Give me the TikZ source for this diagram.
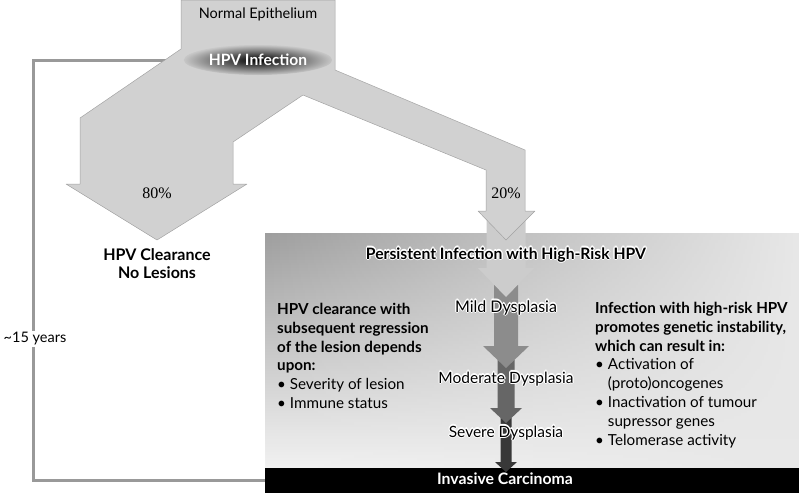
\documentclass[tikz,border=0pt]{standalone}
\usepackage{fontspec}
\setmainfont{Lato}
\newfontfamily\pctfont{Liberation Serif}
\usetikzlibrary{fadings,shapes.geometric}
\newcommand\halo[1]{\leavevmode\foreach \hx/\hy in {1.2/0,-1.2/0,0/1.2,0/-1.2,.85/.85,-.85/.85,.85/-.85,-.85/-.85}{\rlap{\kern\hx pt\raise\hy pt\hbox{\color{white}#1}}}#1}
\begin{document}
\begin{tikzpicture}[x=1pt,y=-1pt,line join=round,
 flow/.style={fill=black!18,draw=black!36,line width=.5pt},
 stage/.style={font=\fontsize{15.5}{17}\selectfont,inner sep=0,anchor=base},
 body/.style={font=\fontsize{15.2}{18.8}\selectfont,align=left,inner sep=0,anchor=north west},
 head/.style={font=\bfseries\fontsize{16}{18}\selectfont,inner sep=0}]
\useasboundingbox (0,0) rectangle (799,493);
\path
(181,0) coordinate (N1)
(335,0) coordinate (N2)
(335,70) coordinate (N3)
(525,150) coordinate (R1)
(525,211) coordinate (R2)
(535,211) coordinate (R3)
(506,240) coordinate (R4)
(478,211) coordinate (R5)
(486,211) coordinate (R6)
(486,170) coordinate (R7)
(303,95) coordinate (M)
(233,142) coordinate (L1)
(233,184) coordinate (L2)
(247,184) coordinate (L3)
(157,240) coordinate (L4)
(66,184) coordinate (L5)
(80,184) coordinate (L6)
(80,118) coordinate (L7)
(181,49) coordinate (L8)
(190,60) coordinate (T)
(33,60) coordinate (Y1)
(33,480) coordinate (Y2)
(268,480) coordinate (Y3)
(265,233) coordinate (P)
(799,468) coordinate (Q)
(799,493) coordinate (Z)
;
\draw[black!40,line width=3pt,line join=miter] (T)--(Y1)--(Y2)--(Y3);
\fill[top color=black!38,bottom color=black!5] (P) rectangle (Q);
\fill[black!9,path fading=west] (P) rectangle (Q);
\fill[black] (P|-Q) rectangle (Z);
\foreach \ya/\yb/\yc/\s/\w/\c in {418/462/472/5.5/11/78, 360/408/423/8.5/16/60, 285/346/368/12/23/45, 211/268/297/19.5/28/20}
\fill[black!\c] (506-\s,\ya)--(506-\s,\yb)--(506-\w,\yb)--(506,\yc)--(506+\w,\yb)--(506+\s,\yb)--(506+\s,\ya)--cycle;
\draw[flow] (N1)--(N2)--(N3)--(R1)--(R2)--(R3)--(R4)--(R5)--(R6)--(R7)--(M)--(L1)--(L2)--(L3)--(L4)--(L5)--(L6)--(L7)--(L8)--cycle;
\node[font=\fontsize{14.5}{16}\selectfont] (normal) at (258,14) {Normal Epithelium};
\node[ellipse,minimum width=138,minimum height=30,shading=radial,inner color=black,outer color=black!22,
 text=white,font=\bfseries\fontsize{15.6}{17}\selectfont] (hpv) at (258,60) {HPV Infection};
\node[font=\pctfont\fontsize{16}{18}\selectfont] (p80) at (157,193) {80\%};
\node[font=\pctfont\fontsize{16}{18}\selectfont] (p20) at (506,193) {20\%};
\node[head,align=center,anchor=north] (clear) at (157,248) {HPV Clearance\\No Lesions};
\node[head,anchor=base,font=\bfseries\fontsize{15.7}{18}\selectfont] (persist) at (506,259) {\halo{Persistent Infection with High-Risk HPV}};
\node[stage,font=\fontsize{16}{17}\selectfont] (mild) at (506,312) {\halo{Mild Dysplasia}};
\node[stage] (moderate) at (506,383) {\halo{Moderate Dysplasia}};
\node[stage] (severe) at (506,437) {\halo{Severe Dysplasia}};
\node[stage,text=white,font=\bfseries\fontsize{15.8}{17}\selectfont] (invasive) at (505,484) {Invasive Carcinoma};
\node[body] (regress) at (277,303) {\textbf{HPV clearance with}\\\textbf{subsequent regression}\\\textbf{of the lesion depends}\\\textbf{upon:}\\\textbullet\ Severity of lesion\\\textbullet\ Immune status};
\node[body] (instab) at (595,302) {\textbf{Infection with high-risk HPV}\\\textbf{promotes genetic instability,}\\\textbf{which can result in:}\\\textbullet\ Activation of\\\phantom{\textbullet\ }(proto)oncogenes\\\textbullet\ Inactivation of tumour\\\phantom{\textbullet\ }supressor genes\\\textbullet\ Telomerase activity};
\node[fill=white,inner sep=2pt,font=\fontsize{14.5}{16}\selectfont] (years) at (35,339) {\textasciitilde15 years};
\end{tikzpicture}
\end{document}
